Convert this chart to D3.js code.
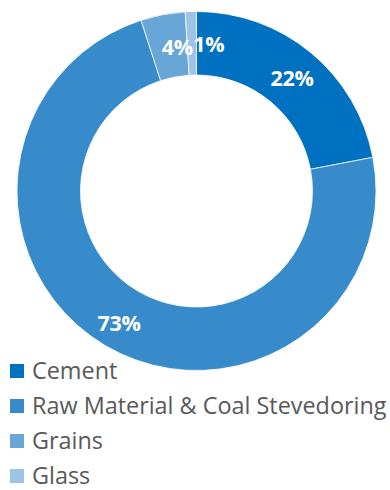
<!DOCTYPE html>
<html>
<head>
<meta charset="utf-8">
<script src="https://cdn.jsdelivr.net/npm/d3@7"></script>
<style>
  html, body { margin: 0; padding: 0; background: #fff; }
  svg { display: block; }
</style>
</head>
<body>
<svg id="chart" width="390" height="490"></svg>
<script>
// Segment names, shares (%) and colours
const categories = ["Cement", "Raw Material & Coal Stevedoring", "Grains", "Glass"];
const values = [22, 73, 4, 1];
const colors = ["#0070c0", "#378bca", "#68a6d7", "#9dc3e6"];
// Horizontal nudges for the labels of the narrow slices
const labelShift = [0, -1, 9, 17];

const svg = d3.select("#chart");
const cx = 196.5, cy = 191, outerR = 179.5, innerR = 116;

const data = categories.map((c, i) => ({ name: c, value: values[i], color: colors[i], shift: labelShift[i] }));

const pie = d3.pie().value(d => d.value).sort(null);
const arc = d3.arc().innerRadius(innerR).outerRadius(outerR);
const labelArc = d3.arc().innerRadius(150).outerRadius(150);

const g = svg.append("g").attr("transform", `translate(${cx},${cy})`);
const arcs = pie(data);

g.selectAll("path.slice")
  .data(arcs)
  .join("path")
  .attr("class", "slice")
  .attr("d", arc)
  .attr("fill", d => d.data.color)
  .attr("stroke", "#fff")
  .attr("stroke-width", 0.75);

g.selectAll("text.pct")
  .data(arcs)
  .join("text")
  .attr("class", "pct")
  .attr("transform", d => {
    const [x, y] = labelArc.centroid(d);
    return `translate(${x + d.data.shift},${y + 11})`;
  })
  .attr("text-anchor", "middle")
  .attr("font-family", "'Open Sans', 'DejaVu Sans', sans-serif")
  .attr("font-weight", "bold")
  .attr("font-size", 21.5)
  .attr("letter-spacing", -0.3)
  .attr("fill", "#fff")
  .text(d => d.data.value + "%");

// Legend
const legend = svg.append("g").attr("transform", "translate(10,379)");
const rows = legend.selectAll("g.row")
  .data(data)
  .join("g")
  .attr("class", "row")
  .attr("transform", (d, i) => `translate(0,${i * 35})`);

rows.append("rect")
  .attr("x", 0).attr("y", -15)
  .attr("width", 14).attr("height", 14)
  .attr("fill", d => d.color);

rows.append("text")
  .attr("x", 22).attr("y", 0)
  .attr("font-family", "'Open Sans', 'DejaVu Sans', sans-serif")
  .attr("font-size", 23.4)
  .attr("fill", "#595959")
  .text(d => d.name);
</script>
</body>
</html>
